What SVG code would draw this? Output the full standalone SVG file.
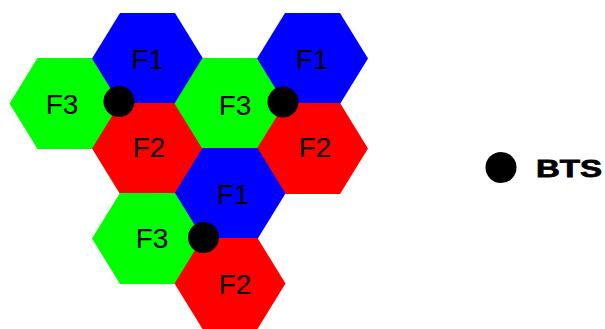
<svg xmlns="http://www.w3.org/2000/svg" xmlns:xlink="http://www.w3.org/1999/xlink" width="605" height="329" viewBox="0 0 605 329">
<style>
.f1{fill:#0000ff}
.f2{fill:#ff0000}
.f3{fill:#00ff00}
.lbl{font-family:"Liberation Sans",Arial,sans-serif;font-size:28px;fill:#000;text-anchor:middle}
.bts{fill:#000}
.legend{font-family:"Liberation Sans",Arial,sans-serif;font-size:24px;font-weight:bold;fill:#000;stroke:#000;stroke-width:0.8}
</style>
<defs>
<polygon id="hex" points="-55.5,0 -27.5,-45.5 27.5,-45.5 55.5,0 27.5,45.5 -27.5,45.5"/>
</defs>
<rect width="605" height="329" fill="#fff"/>
<g id="cell-f3-a">
<use xlink:href="#hex" href="#hex" x="65" y="103.5" class="f3"/>
<text class="lbl" x="62" y="114">F3</text>
</g>
<g id="cell-f1-a">
<use xlink:href="#hex" href="#hex" x="147.5" y="58.5" class="f1"/>
<text class="lbl" x="147.5" y="69">F1</text>
</g>
<g id="cell-f2-a">
<use xlink:href="#hex" href="#hex" x="147.5" y="148.5" class="f2"/>
<text class="lbl" x="149" y="157">F2</text>
</g>
<g id="cell-f3-b">
<use xlink:href="#hex" href="#hex" x="230" y="103.5" class="f3"/>
<text class="lbl" x="235" y="115">F3</text>
</g>
<g id="cell-f1-b">
<use xlink:href="#hex" href="#hex" x="312.5" y="58.5" class="f1"/>
<text class="lbl" x="312" y="69">F1</text>
</g>
<g id="cell-f2-b">
<use xlink:href="#hex" href="#hex" x="312.5" y="148.5" class="f2"/>
<text class="lbl" x="315" y="157">F2</text>
</g>
<g id="cell-f1-c">
<use xlink:href="#hex" href="#hex" x="230" y="193.5" class="f1"/>
<text class="lbl" x="233" y="204">F1</text>
</g>
<g id="cell-f3-c">
<use xlink:href="#hex" href="#hex" x="147.5" y="238.5" class="f3"/>
<text class="lbl" x="152" y="248">F3</text>
</g>
<g id="cell-f2-c">
<use xlink:href="#hex" href="#hex" x="230" y="283.5" class="f2"/>
<text class="lbl" x="235" y="294">F2</text>
</g>
<g id="bts-sites">
<circle class="bts" cx="119" cy="101.5" r="15.5"/>
<circle class="bts" cx="283" cy="102" r="15.5"/>
<circle class="bts" cx="203.5" cy="237.5" r="15.5"/>
</g>
<g id="legend">
<circle class="bts" cx="501" cy="167.5" r="15.5"/>
<text class="legend" x="536" y="176.5" textLength="66" lengthAdjust="spacingAndGlyphs">BTS</text>
</g>
</svg>
